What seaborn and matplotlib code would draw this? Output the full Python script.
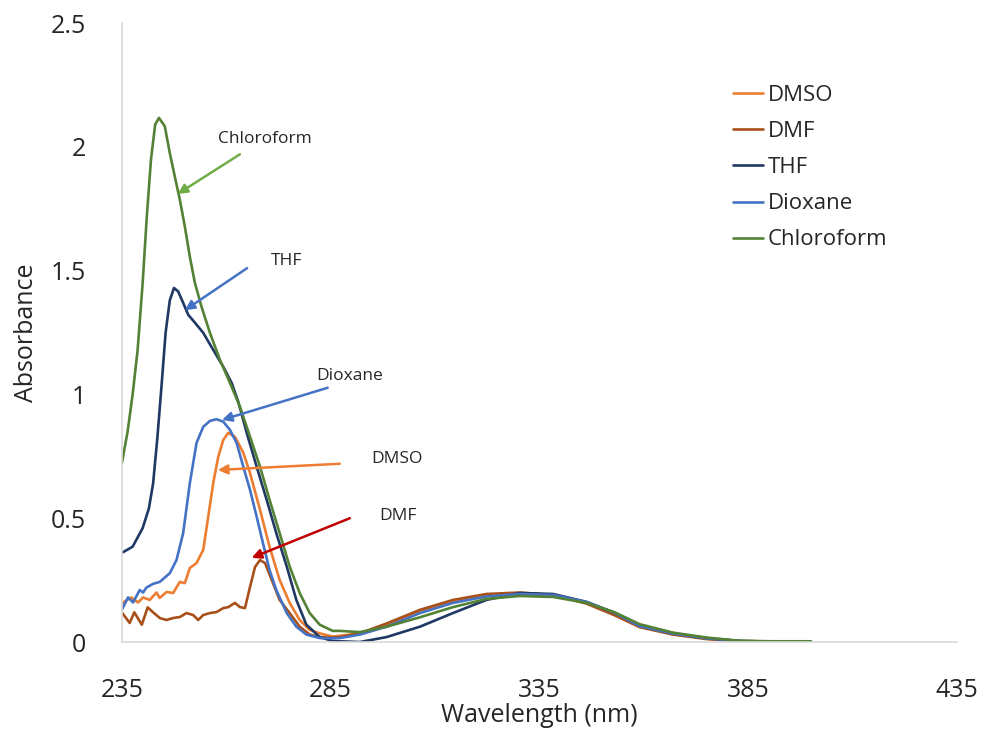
import numpy as np
import pandas as pd
import matplotlib
matplotlib.use('Agg')
import matplotlib.pyplot as plt
import seaborn as sns

# values
dmso_x = [235, 235.3, 237.3, 238.9, 240.1, 241.7, 243.3, 244.1, 245.7, 247.3, 248.9, 250.1, 251.3,
          252.9, 254.5, 255.7, 256.9, 258.1, 259.3, 260.5, 262.1, 264.1, 265.7, 268.1, 270.4,
          272.8, 275.2, 277.6, 280, 282.4, 285.5, 287.2, 292, 298.4, 306.4, 314.3, 322.3, 330.3,
          338.3, 346.3, 353, 359, 367, 375, 383, 391, 400]
dmso_y = [0.15, 0.16, 0.18, 0.16, 0.18, 0.17, 0.20, 0.178, 0.202, 0.198, 0.243, 0.238, 0.299,
          0.319, 0.372, 0.506, 0.642, 0.748, 0.816, 0.845, 0.829, 0.764, 0.683, 0.534, 0.384,
          0.251, 0.158, 0.089, 0.049, 0.035, 0.022, 0.025, 0.035, 0.07, 0.125, 0.165, 0.19, 0.197,
          0.19, 0.158, 0.115, 0.066, 0.034, 0.014, 0.004, 0.002, 0.002]

dmf_x = [235, 236.9, 238, 239.8, 241.2, 242.5, 244.1, 245.7, 247.3, 248.9, 250.5, 252.1, 253.3,
         254.5, 256.1, 257.7, 259.3, 260.5, 262.1, 263.3, 264.5, 265.7, 266.9, 268.1, 269.3,
         270.9, 272.8, 275.2, 277.6, 280, 282.4, 285, 287.2, 292, 298.4, 306.4, 314.3, 322.3,
         330.3, 338.3, 346.3, 353, 359, 367, 375, 383, 391, 400]
dmf_y = [0.12, 0.077, 0.12, 0.07, 0.14, 0.12, 0.097, 0.089, 0.097, 0.101, 0.117, 0.109, 0.089,
         0.109, 0.117, 0.121, 0.137, 0.141, 0.158, 0.141, 0.137, 0.222, 0.303, 0.331, 0.319,
         0.251, 0.17, 0.117, 0.062, 0.03, 0.02, 0.018, 0.02, 0.035, 0.075, 0.13, 0.17, 0.194,
         0.2, 0.19, 0.155, 0.108, 0.06, 0.03, 0.012, 0.003, 0.002, 0.002]

thf_x = [235, 237.6, 240, 241.5, 242.5, 243.5, 244.5, 245.5, 246.5, 247.5, 248.5, 249.7, 250.9,
         252.5, 254.5, 256.9, 259.3, 261.3, 262.9, 265, 267.3, 269.7, 272, 274.5, 276.8, 279.2,
         282.4, 285.5, 287.2, 292, 298.4, 306.4, 314.3, 322.3, 330.3, 338.3, 346.3, 353, 359,
         367, 375, 383, 391, 400]
thf_y = [0.36, 0.385, 0.46, 0.54, 0.64, 0.82, 1.03, 1.25, 1.38, 1.43, 1.416, 1.37, 1.322,
         1.29, 1.249, 1.18, 1.112, 1.047, 0.97, 0.84, 0.708, 0.574, 0.44, 0.305, 0.17, 0.07,
         0.02, 0.004, 0.003, 0.0, 0.02, 0.062, 0.117, 0.17, 0.198, 0.194, 0.162, 0.118, 0.068,
         0.035, 0.016, 0.004, 0.002, 0.002]

diox_x = [235, 235.3, 236.5, 237.7, 239.3, 240.1, 240.9, 242.5, 244.1, 246.5, 248.1, 249.7, 251.3,
          252.9, 254.5, 256.1, 257.7, 259.3, 260.9, 262.5, 264.1, 265.7, 267.3, 268.8, 270.4,
          272, 274.5, 276.8, 279.2, 282.4, 285.5, 287.2, 292, 298.4, 306.4, 314.3, 322.3, 330.3,
          338.3, 346.3, 353, 359, 367, 375, 383, 391, 400]
diox_y = [0.13, 0.14, 0.18, 0.16, 0.21, 0.20, 0.22, 0.235, 0.243, 0.278, 0.331, 0.44, 0.642,
          0.804, 0.869, 0.893, 0.90, 0.89, 0.857, 0.804, 0.708, 0.615, 0.506, 0.40, 0.29,
          0.21, 0.117, 0.062, 0.03, 0.016, 0.015, 0.016, 0.03, 0.062, 0.117, 0.158, 0.184, 0.194,
          0.19, 0.162, 0.118, 0.064, 0.034, 0.015, 0.004, 0.002, 0.002]

chl_x = [235, 236.4, 237.6, 238.8, 240, 241, 242, 243, 243.9, 245.3, 246.5, 247.7, 248.9, 250.1,
         251.3, 252.5, 254.1, 256.1, 258.5, 260.9, 263.3, 265.7, 268.1, 270.4, 272.8, 275.2,
         277.6, 280, 282.4, 285.5, 287.2, 292, 298.4, 306.4, 314.3, 322.3, 330.3, 338.3, 346.3,
         353, 359, 367, 375, 383, 391, 400]
chl_y = [0.72, 0.85, 1.0, 1.18, 1.45, 1.72, 1.95, 2.09, 2.117, 2.083, 1.975, 1.88, 1.787, 1.678,
         1.556, 1.451, 1.354, 1.249, 1.14, 1.047, 0.95, 0.83, 0.708, 0.574, 0.44, 0.305,
         0.198, 0.117, 0.07, 0.045, 0.045, 0.04, 0.062, 0.10, 0.141, 0.174, 0.186, 0.182, 0.158,
         0.12, 0.072, 0.038, 0.018, 0.005, 0.003, 0.003]

solvents = ['DMSO', 'DMF', 'THF', 'Dioxane', 'Chloroform']
colors = ['#ED7D31', '#A9501A', '#203864', '#4472C4', '#548235']
x_ticks = [235, 285, 335, 385, 435]
y_ticks = [0, 0.5, 1, 1.5, 2, 2.5]
y_tick_labels = ['0', '0.5', '1', '1.5', '2', '2.5']

# annotations: label, text pos, arrow tail, arrow head, colour
notes = [
    ('Chloroform', (269.3, 2.03), (263.3, 1.97), (248.4, 1.81), '#70AD47'),
    ('THF', (274.5, 1.54), (265.0, 1.51), (250.1, 1.34), '#4472C4'),
    ('Dioxane', (289.6, 1.075), (284.3, 1.027), (259.0, 0.897), '#4472C4'),
    ('DMSO', (300.9, 0.74), (287.2, 0.72), (258.0, 0.695), '#ED7D31'),
    ('DMF', (301.1, 0.51), (289.6, 0.50), (266.1, 0.34), '#C00000'),
]

xs = [dmso_x, dmf_x, thf_x, diox_x, chl_x]
ys = [dmso_y, dmf_y, thf_y, diox_y, chl_y]
df = pd.concat([pd.DataFrame({'Wavelength': x, 'Absorbance': y, 'Solvent': s})
                for x, y, s in zip(xs, ys, solvents)], ignore_index=True)

sns.set_style('white')
plt.rcParams['font.family'] = ['Open Sans', 'DejaVu Sans']

fig = plt.figure(figsize=(9.82, 7.29), dpi=100)
ax = fig.add_axes([0.124, 0.1193, 0.8506, 0.8491])

sns.lineplot(data=df, x='Wavelength', y='Absorbance', hue='Solvent', hue_order=solvents,
             palette=colors, linewidth=1.9, ax=ax, estimator=None, sort=True)
for line in ax.get_lines():
    line.set_solid_joinstyle('round')

ax.set_xlim(235, 435)
ax.set_ylim(0, 2.5)
ax.set_xticks(x_ticks)
ax.set_xticklabels([str(t) for t in x_ticks], fontsize=18)
ax.set_yticks(y_ticks)
ax.set_yticklabels(y_tick_labels, fontsize=18)
ax.tick_params(axis='x', length=0, pad=26)
ax.tick_params(axis='y', length=0, pad=26)
ax.set_xlabel('Wavelength (nm)', fontsize=18, labelpad=0)
ax.set_ylabel('Absorbance', fontsize=18, labelpad=8)

for side in ['top', 'right']:
    ax.spines[side].set_visible(False)
for side in ['left', 'bottom']:
    ax.spines[side].set_color('#D9D9D9')
    ax.spines[side].set_linewidth(1.2)

for label, tpos, tail, head, c in notes:
    ax.annotate('', xy=head, xytext=tail,
                arrowprops=dict(arrowstyle='-|>', color=c, lw=1.8, mutation_scale=14,
                                shrinkA=0, shrinkB=0))
    ax.text(tpos[0], tpos[1], label, fontsize=12.5, ha='center', va='center')

leg = ax.legend(loc='upper left', bbox_to_anchor=(0.7464, 0.8834), bbox_transform=fig.transFigure,
                frameon=False, fontsize=16, handlelength=1.35, handletextpad=0.2,
                labelspacing=0.68, borderpad=0, borderaxespad=0)
for line in leg.get_lines():
    line.set_linewidth(1.9)

fig.savefig('out.png', dpi=100)
